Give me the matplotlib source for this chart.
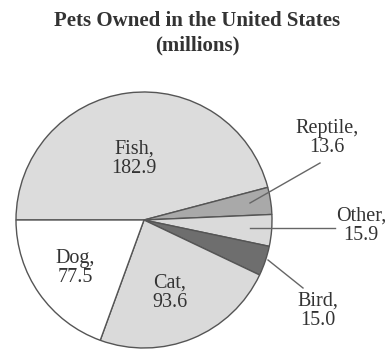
import matplotlib
matplotlib.use("Agg")
import matplotlib.pyplot as plt

labels = ["Fish", "Reptile", "Other", "Bird", "Cat", "Dog"]
values = [182.9, 13.6, 15.9, 15.0, 93.6, 77.5]
colors = ["#dcdcdc", "#a9a9a9", "#dadada", "#6e6e6e", "#dadada", "#ffffff"]

W, H = 387, 349
fig = plt.figure(figsize=(W / 100, H / 100), dpi=100)
ax = fig.add_axes([0, 0, 1, 1])

cx, cy, r = 144, H - 220, 128
ax.pie(values, colors=colors, startangle=180, counterclock=False,
       center=(cx, cy), radius=r, frame=True,
       wedgeprops=dict(edgecolor="#555555", linewidth=1.0))
ax.set_xlim(0, W)
ax.set_ylim(0, H)
ax.set_aspect("equal")
ax.axis("off")

font = dict(family="Liberation Serif", color="#333333")
fig.text(197 / W, 1 - 21 / H, "Pets Owned in the United States", ha="center", va="center",
         fontsize=15, fontweight="bold", **font)
fig.text(197 / W, 1 - 45 / H, "(millions)", ha="center", va="center",
         fontsize=15, fontweight="bold", **font)

label_pos = {"Fish": (134, 159), "Reptile": (327, 138), "Other": (361, 226),
             "Bird": (318, 311), "Cat": (170, 293), "Dog": (75, 268)}
for name, v in zip(labels, values):
    x, y = label_pos[name]
    ax.text(x, H - y, f"{name},\n{v:.1f}", ha="center", va="center", fontsize=14.5,
            linespacing=1.05, **font)

leaders = [((250, 203), (320, 163)), ((250, 228), (335, 228)), ((268, 260), (303, 288))]
for (x0, y0), (x1, y1) in leaders:
    ax.plot([x0, x1], [H - y0, H - y1], color="#666666", lw=1.0)

fig.savefig("out.png", dpi=100)
